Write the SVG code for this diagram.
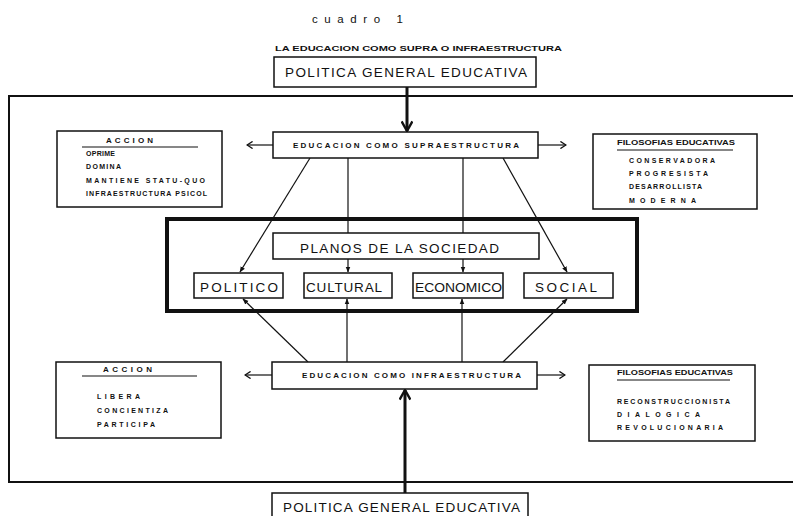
<svg xmlns="http://www.w3.org/2000/svg" width="793" height="516" viewBox="0 0 793 516">
<style>
text{font-family:"Liberation Sans",Arial,sans-serif;fill:#111;font-weight:bold}
.box{fill:#fff;stroke:#111;stroke-width:1.5}
.big{font-size:13.5px;font-weight:normal}
.hd{font-size:8px}
.sm{font-size:7px}
.ln{stroke:#111;stroke-width:1.2;fill:none}
.thick{stroke:#111;stroke-width:3;fill:none}
.ttl{font-size:11.5px;font-weight:normal}
</style>
<defs>
<marker id="ah" viewBox="0 0 10 10" refX="9" refY="5" markerWidth="6" markerHeight="6" orient="auto" markerUnits="userSpaceOnUse">
<path d="M0,1 L10,5 L0,9 Z" fill="#111"/>
</marker>
<marker id="open" viewBox="0 0 10 10" refX="9" refY="5" markerWidth="8" markerHeight="8" orient="auto" markerUnits="userSpaceOnUse">
<path d="M2,0.5 L9,5 L2,9.5" fill="none" stroke="#111" stroke-width="1.6"/>
</marker>
<marker id="big" viewBox="0 0 10 10" refX="9" refY="5" markerWidth="12" markerHeight="12" orient="auto" markerUnits="userSpaceOnUse">
<path d="M1,0.5 L9,5 L1,9.5" fill="none" stroke="#111" stroke-width="2"/>
</marker>
</defs>
<rect width="793" height="516" fill="#fff"/>
<g id="title">
<text class="ttl" x="312" y="23" textLength="91" lengthAdjust="spacing">cuadro 1</text>
<text x="275" y="51" font-size="6.5" textLength="287" lengthAdjust="spacingAndGlyphs">LA EDUCACION COMO SUPRA O INFRAESTRUCTURA</text>
</g>
<g id="frame">
<rect x="9" y="96" width="800" height="386" fill="none" stroke="#111" stroke-width="2"/>
</g>
<g id="connectors">
<line class="thick" x1="407" y1="87" x2="407" y2="131" marker-end="url(#big)"/>
<line class="thick" x1="405" y1="493" x2="405" y2="390" marker-end="url(#big)"/>
<line class="ln" x1="273" y1="145" x2="247" y2="145" marker-end="url(#open)"/>
<line class="ln" x1="538" y1="145" x2="566" y2="145" marker-end="url(#open)"/>
<line class="ln" x1="272" y1="375" x2="245" y2="375" marker-end="url(#open)"/>
<line class="ln" x1="537" y1="375" x2="565" y2="375" marker-end="url(#open)"/>
<line class="ln" x1="310" y1="158" x2="240" y2="272" marker-end="url(#ah)"/>
<line class="ln" x1="348" y1="158" x2="348" y2="272" marker-end="url(#ah)"/>
<line class="ln" x1="463" y1="158" x2="463" y2="272" marker-end="url(#ah)"/>
<line class="ln" x1="503" y1="158" x2="567" y2="272" marker-end="url(#ah)"/>
<line class="ln" x1="308" y1="362" x2="243" y2="299" marker-end="url(#ah)"/>
<line class="ln" x1="347" y1="362" x2="347" y2="299" marker-end="url(#ah)"/>
<line class="ln" x1="462" y1="362" x2="462" y2="299" marker-end="url(#ah)"/>
<line class="ln" x1="503" y1="362" x2="567" y2="299" marker-end="url(#ah)"/>
</g>
<g id="politica-top">
<rect class="box" x="274" y="57" width="262" height="30" stroke-width="2"/>
<text class="big" x="285" y="77" textLength="242" lengthAdjust="spacing">POLITICA GENERAL EDUCATIVA</text>
</g>
<g id="supra">
<rect class="box" x="273" y="132" width="265" height="26"/>
<text class="hd" x="293" y="148" textLength="226" lengthAdjust="spacing">EDUCACION COMO SUPRAESTRUCTURA</text>
</g>
<g id="accion-top">
<rect class="box" x="57" y="131" width="165" height="76"/>
<text class="hd" x="106" y="143" textLength="47" lengthAdjust="spacing">ACCION</text>
<line x1="82" y1="147" x2="198" y2="147" stroke="#111" stroke-width="1.2"/>
<text class="sm" x="86" y="156" textLength="29" lengthAdjust="spacing">OPRIME</text>
<text class="sm" x="86" y="169" textLength="35" lengthAdjust="spacing">DOMINA</text>
<text class="sm" x="86" y="183" textLength="119" lengthAdjust="spacing">MANTIENE STATU-QUO</text>
<text class="sm" x="86" y="196" textLength="121" lengthAdjust="spacing">INFRAESTRUCTURA PSICOL</text>
</g>
<g id="filosofias-top">
<rect class="box" x="593" y="134" width="164" height="75"/>
<text class="hd" x="617" y="145" textLength="118" lengthAdjust="spacingAndGlyphs">FILOSOFIAS EDUCATIVAS</text>
<line x1="617" y1="150" x2="733" y2="150" stroke="#111" stroke-width="1.2"/>
<text class="sm" x="629" y="163" textLength="86" lengthAdjust="spacing">CONSERVADORA</text>
<text class="sm" x="629" y="176" textLength="79" lengthAdjust="spacing">PROGRESISTA</text>
<text class="sm" x="629" y="189" textLength="73" lengthAdjust="spacing">DESARROLLISTA</text>
<text class="sm" x="629" y="203" textLength="67" lengthAdjust="spacing">MODERNA</text>
</g>
<g id="planos">
<rect x="167" y="219" width="470" height="92" fill="none" stroke="#111" stroke-width="4"/>
<rect class="box" x="273" y="233" width="266" height="26"/>
<text class="big" x="300" y="253" textLength="199" lengthAdjust="spacing">PLANOS DE LA SOCIEDAD</text>
</g>
<g id="politico">
<rect class="box" x="194" y="273" width="89" height="25"/>
<text class="big" x="200" y="292" textLength="78" lengthAdjust="spacing">POLITICO</text>
</g>
<g id="cultural">
<rect class="box" x="304" y="273" width="88" height="25"/>
<text class="big" x="306" y="292" textLength="76" lengthAdjust="spacing">CULTURAL</text>
</g>
<g id="economico">
<rect class="box" x="413" y="273" width="90" height="25"/>
<text class="big" x="415" y="292" textLength="87" lengthAdjust="spacingAndGlyphs">ECONOMICO</text>
</g>
<g id="social">
<rect class="box" x="524" y="273" width="89" height="25"/>
<text class="big" x="535" y="292" textLength="62" lengthAdjust="spacing">SOCIAL</text>
</g>
<g id="infra">
<rect class="box" x="272" y="362" width="265" height="27"/>
<text class="hd" x="302" y="378" textLength="219" lengthAdjust="spacing">EDUCACION COMO INFRAESTRUCTURA</text>
</g>
<g id="accion-bottom">
<rect class="box" x="56" y="362" width="165" height="76"/>
<text class="hd" x="103" y="372" textLength="49" lengthAdjust="spacing">ACCION</text>
<line x1="82" y1="376" x2="197" y2="376" stroke="#111" stroke-width="1.2"/>
<text class="sm" x="97" y="399" textLength="43" lengthAdjust="spacing">LIBERA</text>
<text class="sm" x="97" y="413" textLength="71" lengthAdjust="spacing">CONCIENTIZA</text>
<text class="sm" x="97" y="427" textLength="58" lengthAdjust="spacing">PARTICIPA</text>
</g>
<g id="filosofias-bottom">
<rect class="box" x="589" y="365" width="166" height="76"/>
<text class="hd" x="617" y="375" textLength="116" lengthAdjust="spacingAndGlyphs">FILOSOFIAS EDUCATIVAS</text>
<line x1="617" y1="380" x2="730" y2="380" stroke="#111" stroke-width="1.2"/>
<text class="sm" x="617" y="404" textLength="113" lengthAdjust="spacing">RECONSTRUCCIONISTA</text>
<text class="sm" x="617" y="417" textLength="83" lengthAdjust="spacing">DIALOGICA</text>
<text class="sm" x="617" y="430" textLength="106" lengthAdjust="spacing">REVOLUCIONARIA</text>
</g>
<g id="politica-bottom">
<rect class="box" x="272" y="493" width="256" height="30" stroke-width="2"/>
<text class="big" x="283" y="512" textLength="237" lengthAdjust="spacing">POLITICA GENERAL EDUCATIVA</text>
</g>
</svg>
